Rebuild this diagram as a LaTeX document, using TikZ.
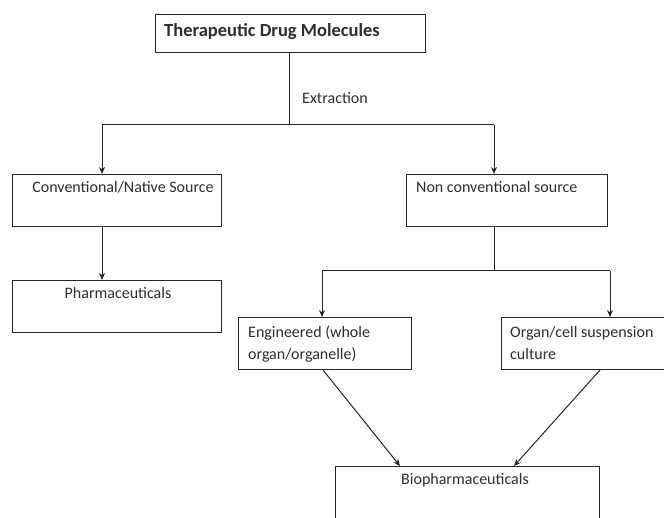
\documentclass[tikz,border=0pt]{standalone}
\usepackage{fontspec}
\setmainfont{Carlito}
\usetikzlibrary{arrows.meta,calc}
\definecolor{linecol}{HTML}{262626}
\definecolor{txtcol}{HTML}{2E2E2E}
\tikzset{
  box/.style={draw=linecol, line width=1pt, inner sep=0pt, anchor=north west},
  lbl/.style={inner sep=0pt, text=txtcol, font=\fontsize{16}{19}\selectfont},
  conn/.style={draw=linecol, line width=1pt},
  arr/.style={conn, -{Stealth[length=7pt,width=6pt]}}
}
\begin{document}
\begin{tikzpicture}[x=1pt,y=-1pt]
\useasboundingbox (0,0) rectangle (664,518);
\clip (0,0) rectangle (664,518);
\fill[white] (0,0) rectangle (664,518);
% boxes
\node[box, minimum width=270pt, minimum height=38pt] (top) at (155,14) {};
\node[box, minimum width=209pt, minimum height=52pt] (conv) at (12,174) {};
\node[box, minimum width=209pt, minimum height=52pt] (pharma) at (12,280) {};
\node[box, minimum width=201pt, minimum height=52pt] (nonconv) at (406,174) {};
\node[box, minimum width=173pt, minimum height=52pt] (eng) at (238,317) {};
\node[box, minimum width=190pt, minimum height=52pt] (organ) at (501,317) {};
\node[box, minimum width=264pt, minimum height=80pt] (bio) at (335,466) {};
% labels
\node[lbl, font=\bfseries\fontsize{18.5}{21}\selectfont, anchor=base west] (ttop) at (164,37) {Therapeutic Drug Molecules};
\node[lbl, anchor=base west] (textr) at (302,104) {Extraction};
\node[lbl, anchor=base] (tconv) at (123,193) {Conventional/Native Source};
\node[lbl, anchor=base] (tpharma) at (118,299) {Pharmaceuticals};
\node[lbl, anchor=base west] (tnon) at (416,193) {Non conventional source};
\node[lbl, anchor=base west] (teng1) at (248,338) {Engineered (whole};
\node[lbl, anchor=base west] (teng2) at (248,360) {organ/organelle)};
\node[lbl, anchor=base west] (torg1) at (510,338) {Organ/cell suspension};
\node[lbl, anchor=base west] (torg2) at (510,360) {culture};
\node[lbl, anchor=base west] (tbio) at (401,484) {Biopharmaceuticals};
% junctions
\coordinate (split) at (289,125);
\coordinate (j1) at (102,125);
\coordinate (j2) at (494,125);
\coordinate (j3) at (494,271);
\coordinate (j4) at (322,271);
\coordinate (j5) at (610,271);
% connectors
\draw[conn] (split |- top.south) -- (split);
\draw[conn] (j1) -- (j2);
\draw[arr] (j1) -- (j1 |- conv.north);
\draw[arr] (j2) -- (j2 |- nonconv.north);
\draw[arr] (j1 |- conv.south) -- (j1 |- pharma.north);
\draw[conn] (j2 |- nonconv.south) -- (j3);
\draw[conn] (j4) -- (j5);
\draw[arr] (j4) -- (j4 |- eng.north);
\draw[arr] (j5) -- (j5 |- organ.north);
\draw[arr] ($(eng.south west)+(85,0)$) -- ($(bio.north west)+(65,0)$);
\draw[arr] ($(organ.south west)+(99,0)$) -- ($(bio.north west)+(179,0)$);
\end{tikzpicture}
\end{document}
